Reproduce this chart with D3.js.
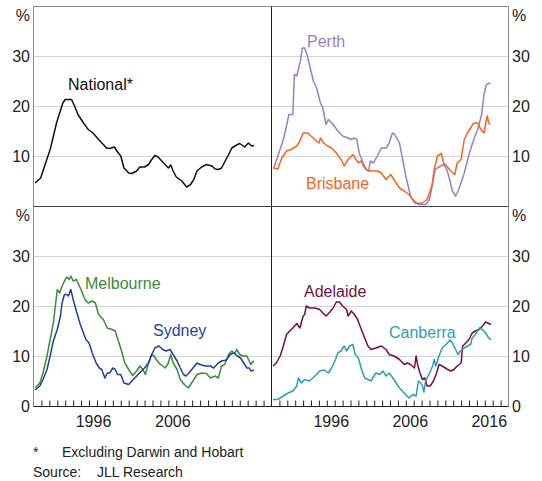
<!DOCTYPE html>
<html>
<head>
<meta charset="utf-8">
<style>
body { margin: 0; background: #fff; }
text { font-family: "Liberation Sans", Arial, sans-serif; fill: #222; }
.series { fill: none; stroke-width: 1.5px; stroke-linejoin: round; }
.grid { stroke: #d3d3d3; stroke-width: 1px; }
</style>
</head>
<body>
<script src="https://cdn.jsdelivr.net/npm/d3@7"></script>
<script>

// vacancy rates: [year, per cent]
var national = [[1989.2,4.7],[1989.9,5.7],[1990.4,8.1],[1991.1,11.4],[1991.5,14],[1991.9,16.7],[1992.3,18.7],[1992.7,20.7],[1993.0,21.4],[1993.8,21.4],[1994.2,20],[1994.6,18.4],[1995.3,16.7],[1995.9,15.4],[1996.5,14.7],[1997.2,13.4],[1997.8,12.4],[1998.2,11.7],[1998.6,11.6],[1999.2,11.9],[1999.5,11.1],[2000.0,10.1],[2000.4,7.7],[2001.0,6.7],[2001.4,6.6],[2002.0,7.1],[2002.4,7.9],[2003.0,7.9],[2003.5,8.4],[2003.9,9.4],[2004.3,10.2],[2004.7,9.9],[2005.4,8.7],[2006.0,7.7],[2006.3,8.3],[2006.6,7.1],[2007.0,5.9],[2007.7,5.1],[2008.3,3.9],[2008.8,4.4],[2009.2,5.4],[2009.6,7.1],[2010.2,7.9],[2010.8,8.4],[2011.5,8.1],[2011.9,7.5],[2012.3,7.4],[2012.7,7.7],[2013.1,8.9],[2013.6,10.4],[2014.0,11.7],[2014.6,12.3],[2015.0,12.6],[2015.6,11.9],[2016.1,12.7],[2016.5,12.1],[2016.8,12.2]];

var perth = [[1989.3,7.7],[1989.8,10.1],[1990.5,13.4],[1990.9,16.1],[1991.2,18.4],[1991.7,18.4],[1991.9,26.4],[1992.2,26.1],[1992.4,27.4],[1992.7,29.4],[1992.9,31.7],[1993.2,31.7],[1993.5,30.4],[1993.8,28.4],[1994.3,25.1],[1994.7,23.7],[1995.2,20.7],[1995.5,19.7],[1995.9,16.4],[1996.2,17.4],[1996.8,16.4],[1997.4,15.1],[1998.0,14.1],[1998.7,13.7],[1999.1,13.4],[1999.5,13.7],[1999.8,13.4],[2000.1,10.7],[2000.6,8.7],[2001.0,7.4],[2001.3,7.1],[2001.5,9.1],[2001.9,8.7],[2002.4,10.1],[2002.9,11.7],[2003.5,11.7],[2003.9,12.7],[2004.3,14.7],[2004.6,14.4],[2005.2,12.7],[2005.6,9.4],[2006.0,6.1],[2006.3,4.1],[2006.6,2.1],[2007.1,0.7],[2007.7,0.4],[2008.5,0.4],[2009.0,1.4],[2009.4,4.7],[2009.7,7.4],[2010.0,7.7],[2010.4,8.1],[2010.8,8.4],[2011.2,7.4],[2011.5,5.7],[2011.9,3.1],[2012.3,2.1],[2012.7,3.4],[2013.4,6.7],[2014.0,10.4],[2014.6,13.4],[2015.1,15.4],[2015.6,18.4],[2015.9,22.4],[2016.2,24.4],[2016.7,24.7]];

var brisbane = [[1989.2,7.7],[1989.8,7.5],[1990.3,9.7],[1990.9,11.1],[1991.5,11.4],[1992.2,12.1],[1992.6,13.1],[1993.0,14.7],[1993.6,14.7],[1994.0,14.1],[1994.7,13.1],[1995.0,12.7],[1995.2,13.7],[1995.6,12.7],[1996.1,12.1],[1996.6,11.7],[1997.2,10.7],[1997.8,9.4],[1998.2,8.1],[1998.7,9.4],[1999.3,10.4],[1999.7,9.4],[2000.0,8.7],[2000.3,9.1],[2000.8,7.7],[2001.2,7.2],[2001.8,7.1],[2002.4,7.1],[2002.9,6.7],[2003.5,5.4],[2004.1,6.4],[2004.6,5.1],[2005.2,3.7],[2005.8,3.1],[2006.4,2.4],[2006.9,1.4],[2007.5,0.6],[2008.1,0.7],[2008.7,1.4],[2009.3,4.1],[2009.6,7.4],[2010.0,10.1],[2010.5,10.6],[2010.8,8.7],[2011.4,7.7],[2011.7,7.1],[2012.2,6.4],[2012.5,8.7],[2013.0,9.4],[2013.4,13.4],[2013.8,14.7],[2014.2,15.7],[2014.6,16.7],[2015.1,16.7],[2015.5,15.4],[2015.9,14.7],[2016.3,18.1],[2016.5,16.7],[2016.7,16.4]];

var melbourne = [[1989.2,3.7],[1989.8,4.7],[1990.2,6.7],[1990.7,10.1],[1991.1,13.4],[1991.5,16.7],[1991.8,20.7],[1992.0,23.4],[1992.3,22.7],[1992.5,23.7],[1993.0,25.4],[1993.2,25.9],[1993.5,25.4],[1993.7,26.1],[1994.0,25.1],[1994.4,25.4],[1994.9,23.7],[1995.5,21.4],[1995.9,20.7],[1996.4,21.1],[1996.8,20.7],[1997.2,18.4],[1997.8,17.4],[1998.3,15.7],[1998.9,15.4],[1999.3,15.1],[1999.7,13.1],[2000.1,11.1],[2000.5,8.7],[2001.0,7.4],[2001.5,6.2],[2002.0,7.1],[2002.4,8.1],[2002.8,7.4],[2003.1,6.4],[2003.5,8.7],[2003.9,10.4],[2004.2,10.1],[2004.6,9.1],[2005.0,8.4],[2005.6,7.7],[2006.0,8.7],[2006.3,10.4],[2006.6,8.7],[2007.1,7.4],[2007.5,5.4],[2008.0,4.4],[2008.5,3.7],[2009.1,5.1],[2009.6,6.4],[2010.2,6.7],[2010.8,6.6],[2011.3,5.7],[2011.9,6.1],[2012.3,5.7],[2012.7,8.1],[2013.1,8.4],[2013.6,10.4],[2014.0,11.1],[2014.4,10.6],[2014.6,11.4],[2015.0,10.4],[2015.4,10.1],[2015.9,10.1],[2016.4,8.4],[2016.6,8.9],[2016.8,9.1]];

var sydney = [[1989.2,3.3],[1989.8,4.1],[1990.2,5.4],[1990.7,7.4],[1991.1,10.1],[1991.5,13.1],[1992.0,15.4],[1992.4,18.1],[1992.6,20.7],[1992.9,22.4],[1993.2,22.4],[1993.4,22.1],[1993.7,23.4],[1994.0,21.4],[1994.4,19.1],[1994.9,16.4],[1995.3,14.7],[1995.6,13.4],[1996.0,12.7],[1996.4,10.7],[1996.9,8.7],[1997.3,7.7],[1997.6,7.4],[1998.0,5.7],[1998.3,6.7],[1998.6,6.7],[1999.0,7.7],[1999.3,7.4],[1999.6,6.4],[2000.0,6.4],[2000.4,4.7],[2001.0,4.4],[2001.4,5.1],[2002.0,6.1],[2002.6,7.1],[2003.0,7.7],[2003.5,8.7],[2003.9,10.4],[2004.3,11.7],[2004.8,12.1],[2005.3,11.4],[2005.7,11.1],[2006.2,11.4],[2006.6,10.4],[2007.1,9.1],[2007.5,7.7],[2007.9,6.4],[2008.2,6.1],[2008.6,6.7],[2009.1,7.7],[2009.6,8.7],[2010.0,8.4],[2010.6,8.1],[2011.3,8.1],[2011.7,7.7],[2012.3,8.7],[2012.7,9.1],[2013.3,9.3],[2013.8,10.4],[2014.2,10.7],[2014.7,10.1],[2015.1,9.7],[2015.5,8.7],[2015.9,7.7],[2016.2,7.7],[2016.4,7.1],[2016.8,7.3]];

var adelaide = [[1989.2,8.1],[1989.6,8.7],[1990.1,10.1],[1990.5,12.1],[1990.9,14.4],[1991.3,15.1],[1991.7,15.7],[1992.2,16.6],[1992.6,15.7],[1993.0,18.1],[1993.2,18.4],[1993.4,20.1],[1993.8,19.7],[1994.5,19.7],[1995.1,19.4],[1995.5,18.7],[1995.9,18.1],[1996.4,18.9],[1996.8,19.7],[1997.2,20.9],[1997.6,20.9],[1998.0,20.1],[1998.5,19.4],[1998.7,18.1],[1999.1,19.1],[1999.5,18.4],[1999.9,17.4],[2000.3,15.7],[2000.8,13.7],[2001.2,12.1],[2001.6,11.4],[2002.2,11.7],[2002.9,12.1],[2003.5,11.4],[2003.9,10.4],[2004.5,10.1],[2005.2,9.4],[2005.8,8.4],[2006.2,8.7],[2006.6,8.4],[2007.1,7.7],[2007.3,10.1],[2007.5,8.4],[2007.8,6.7],[2008.1,5.4],[2008.4,5.7],[2008.7,4.1],[2009.1,4.1],[2009.5,5.1],[2009.9,6.7],[2010.2,8.4],[2010.6,8.1],[2011.2,7.5],[2011.7,7.1],[2012.1,7.4],[2012.5,8.1],[2013.0,8.7],[2013.2,12.1],[2013.6,12.7],[2014.0,13.4],[2014.4,14.7],[2014.8,15.1],[2015.3,15.4],[2015.7,16.1],[2016.1,16.9],[2016.5,16.6],[2016.8,16.4]];

var canberra = [[1989.2,1.4],[1989.8,1.4],[1990.5,2.1],[1991.1,2.7],[1991.7,3.1],[1992.2,4.1],[1992.4,5.7],[1992.8,4.7],[1993.2,5.4],[1993.8,5.1],[1994.5,6.1],[1995.1,7.1],[1995.7,7.3],[1996.2,6.7],[1996.6,7.7],[1997.1,9.4],[1997.4,10.7],[1997.8,11.1],[1998.2,12.1],[1998.5,11.1],[1998.9,12.1],[1999.3,12.4],[1999.6,10.4],[2000.0,9.7],[2000.4,7.4],[2000.8,5.7],[2001.2,5.4],[2001.6,5.1],[2002.2,6.7],[2002.7,6.4],[2003.1,7.1],[2003.5,6.1],[2003.9,6.7],[2004.5,5.4],[2005.2,3.7],[2005.8,2.7],[2006.4,1.7],[2006.9,2.4],[2007.3,2.1],[2007.6,5.1],[2007.9,4.7],[2008.1,4.1],[2008.3,2.9],[2008.5,5.1],[2009.0,6.7],[2009.4,8.1],[2009.6,9.4],[2009.8,8.1],[2010.2,10.1],[2010.6,11.7],[2011.1,12.4],[2011.6,13.3],[2011.9,12.7],[2012.3,11.4],[2012.6,10.4],[2012.9,11.1],[2013.4,11.7],[2013.8,12.1],[2014.2,12.4],[2014.4,13.7],[2014.8,14.4],[2015.3,15.7],[2015.7,15.4],[2016.1,14.7],[2016.5,13.7],[2016.8,13.3]];

var yTicks = [10, 20, 30];
var lowerYTicks = [0, 10, 20, 30];
var leftYearLabels = [1996, 2006];
var rightYearLabels = [1996, 2006, 2016];

var width = 542,
    height = 481;

var xLeft = 33.5, xMid = 271.5, xRight = 508.5;
var yTop = 6.5, yMiddle = 206.5, yBottom = 406.5;

var panels = [
  {col: 0, row: 0, series: [
    {data: national, color: "#111", name: "National*", lx: 68, ly: 90}]},
  {col: 1, row: 0, series: [
    {data: perth, color: "#9b7fc6", name: "Perth", lx: 307, ly: 47},
    {data: brisbane, color: "#f26522", name: "Brisbane", lx: 306, ly: 189}]},
  {col: 0, row: 1, series: [
    {data: melbourne, color: "#3b8a3b", name: "Melbourne", lx: 85, ly: 289},
    {data: sydney, color: "#1f3f9f", name: "Sydney", lx: 153, ly: 336}]},
  {col: 1, row: 1, series: [
    {data: adelaide, color: "#701044", name: "Adelaide", lx: 304, ly: 297},
    {data: canberra, color: "#2b9eb6", name: "Canberra", lx: 389, ly: 338}]}
];

var svg = d3.select("body").append("svg")
    .attr("width", width)
    .attr("height", height);

panels.forEach(function(p) {
  var x = d3.scaleLinear()
      .domain([1989, 2019])
      .range(p.col === 0 ? [xLeft, xMid] : [xMid, xRight]);
  var y = d3.scaleLinear()
      .domain([0, 40])
      .range(p.row === 0 ? [yMiddle, yTop] : [yBottom, yMiddle]);

  var g = svg.append("g");

  // gridlines
  g.selectAll("line.grid")
    .data(yTicks)
    .enter().append("line")
    .attr("class", "grid")
    .attr("x1", x.range()[0])
    .attr("x2", x.range()[1])
    .attr("y1", function(d) { return y(d); })
    .attr("y2", function(d) { return y(d); });

  var line = d3.line()
      .x(function(d) { return x(d[0]); })
      .y(function(d) { return y(d[1]); });

  p.series.forEach(function(s) {
    g.append("path")
      .datum(s.data)
      .attr("class", "series")
      .attr("stroke", s.color)
      .attr("d", line);

    g.append("text")
      .attr("x", s.lx)
      .attr("y", s.ly)
      .style("fill", s.color)
      .style("font-size", "16px")
      .text(s.name);
  });

  // year ticks and labels on the bottom row
  if (p.row === 1) {
    var tickAxis = d3.axisBottom(x)
        .tickValues(d3.range(1990, 2019))
        .tickSize(-6)
        .tickFormat("");
    var ta = svg.append("g")
        .attr("transform", "translate(0," + yBottom + ")")
        .call(tickAxis);
    ta.select(".domain").remove();
    ta.selectAll(".tick line").attr("stroke", "#222");

    var labelYears = p.col === 0 ? leftYearLabels : rightYearLabels;
    // labels sit in the middle of each year
    var labelAxis = d3.axisBottom(x)
        .tickValues(labelYears.map(function(d) { return d + 0.5; }))
        .tickSize(0)
        .tickPadding(9)
        .tickFormat(function(d) { return Math.floor(d); });
    var la = svg.append("g")
        .attr("transform", "translate(0," + yBottom + ")")
        .call(labelAxis);
    la.select(".domain").remove();
    la.selectAll("text")
      .attr("font-family", null)
      .style("font-size", "16px")
      .style("fill", "#222");
  }

  // y labels on the outer sides
  var ticks = p.row === 0 ? yTicks : lowerYTicks;
  var lx = p.col === 0 ? 30 : 512;
  var anchor = p.col === 0 ? "end" : "start";
  svg.selectAll(null)
    .data(ticks)
    .enter().append("text")
    .attr("x", lx)
    .attr("y", function(d) { return y(d); })
    .attr("dy", "0.36em")
    .attr("text-anchor", anchor)
    .style("font-size", "16px")
    .text(function(d) { return d; });
  svg.append("text")
    .attr("x", lx)
    .attr("y", y(40) + 9)
    .attr("dy", "0.36em")
    .attr("text-anchor", anchor)
    .style("font-size", "16px")
    .text("%");
});

// outer frame
svg.append("rect")
  .attr("x", xLeft)
  .attr("y", yTop)
  .attr("width", xRight - xLeft)
  .attr("height", yBottom - yTop)
  .attr("fill", "none")
  .attr("stroke", "#8a8a8a");

// panel dividers
svg.append("line")
  .attr("x1", xMid).attr("x2", xMid)
  .attr("y1", yTop).attr("y2", yBottom)
  .attr("stroke", "#222");
svg.append("line")
  .attr("x1", xLeft).attr("x2", xRight)
  .attr("y1", yMiddle).attr("y2", yMiddle)
  .attr("stroke", "#444");
svg.append("line")
  .attr("x1", xLeft).attr("x2", xRight)
  .attr("y1", yBottom).attr("y2", yBottom)
  .attr("stroke", "#222");

// notes
var notes = svg.append("g").style("font-size", "14px");
notes.append("text").attr("x", 33).attr("y", 457).text("*");
notes.append("text").attr("x", 62).attr("y", 457).text("Excluding Darwin and Hobart");
notes.append("text").attr("x", 33).attr("y", 477).text("Source:");
notes.append("text").attr("x", 97).attr("y", 477).text("JLL Research");

</script>
</body>
</html>
